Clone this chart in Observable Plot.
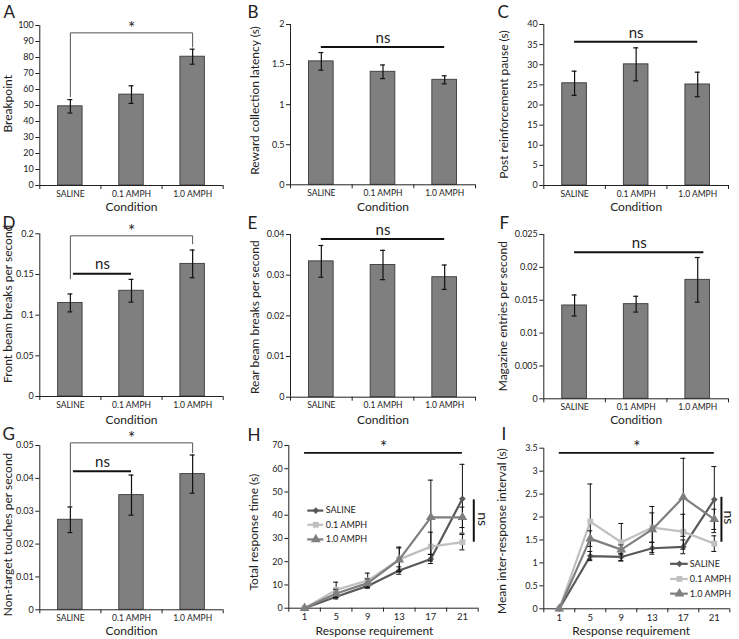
<!DOCTYPE html>
<html><head><meta charset="utf-8">
<script src="https://cdn.jsdelivr.net/npm/d3@7"></script>
<script src="https://cdn.jsdelivr.net/npm/@observablehq/plot@0.6"></script>
<style>
body{margin:0;background:#fff;}
#fig{position:relative;width:739px;height:639px;}
#fig svg{position:absolute;left:0;top:0;}
</style></head><body><div id="fig"></div>
<script>
// ---------- data ----------
const conditions = ["SALINE", "0.1 AMPH", "1.0 AMPH"];

const breakpointMean = [49.5, 56.8, 80.5];
const breakpointSem  = [4.2, 5.5, 4.7];
const latencyMean = [1.54, 1.41, 1.31];
const latencySem  = [0.11, 0.085, 0.05];
const pauseMean = [25.4, 30.1, 25.1];
const pauseSem  = [3.0, 4.1, 3.05];
const frontMean = [0.115, 0.130, 0.163];
const frontSem  = [0.011, 0.014, 0.017];
const rearMean = [0.0334, 0.0325, 0.0295];
const rearSem  = [0.0039, 0.0036, 0.0030];
const magMean = [0.0142, 0.0144, 0.0181];
const magSem  = [0.0016, 0.0012, 0.0034];
const touchMean = [0.0274, 0.0349, 0.0413];
const touchSem  = [0.0039, 0.0061, 0.0058];

const requirements = ["1", "5", "9", "13", "17", "21"];
const seriesNames = ["SALINE", "0.1 AMPH", "1.0 AMPH"];
// H: total response time (s)
const trtSaline = [0, 4.9, 9.6, 16.2, 21.2, 47.1];
const trtSalineSem = [0, 0.9, 0.9, 1.6, 2.0, 14.8];
const trtLow = [0, 7.9, 11.9, 21.0, 26.5, 28.4];
const trtLowSem = [0, 3.3, 3.2, 5.3, 6.2, 3.3];
const trtHigh = [0, 6.3, 10.8, 20.9, 39.1, 39.1];
const trtHighSem = [0, 1.8, 1.8, 5.0, 16.0, 4.4];
// I: mean inter-response interval (s)
const iriSaline = [0, 1.15, 1.13, 1.32, 1.35, 2.38];
const iriSalineSem = [0, 0.10, 0.08, 0.13, 0.15, 0.72];
const iriLow = [0, 1.90, 1.45, 1.77, 1.68, 1.42];
const iriLowSem = [0, 0.82, 0.41, 0.32, 0.38, 0.17];
const iriHigh = [0, 1.53, 1.29, 1.73, 2.43, 1.95];
const iriHighSem = [0, 0.17, 0.10, 0.50, 0.85, 0.22];

// tick values
const ticksA = [0,10,20,30,40,50,60,70,80,90,100];
const ticksB = [0,0.5,1,1.5,2];
const ticksC = [0,5,10,15,20,25,30,35,40];
const ticksD = [0,0.05,0.1,0.15,0.2];
const ticksE = [0,0.01,0.02,0.03,0.04];
const ticksF = [0,0.005,0.01,0.015,0.02,0.025];
const ticksG = [0,0.01,0.02,0.03,0.04,0.05];
const ticksH = [0,10,20,30,40,50,60,70];
const ticksI = [0,0.5,1,1.5,2,2.5,3,3.5];

// significance annotations (data units)
const sigA = {from: 0, to: 2, y: 95.4, yFrom: 55.5, yTo: 86.5, label: "*"};
const nsB = {from: 0, to: 2, y: 1.72};
const nsC = {from: 0, to: 2, y: 35.7};
const sigD = {from: 0, to: 2, y: 0.1975, yFrom: 0.1447, yTo: 0.1877, label: "*"};
const nsD = {x1: 0.55, x2: 1.5, y: 0.151};
const nsE = {from: 0, to: 2, y: 0.0389};
const nsF = {x1: 0.5, x2: 2.6, y: 0.0223};
const sigG = {from: 0, to: 2, y: 0.0508, yFrom: 0.0314, yTo: 0.0478, label: "*"};
const nsG = {x1: 0.55, x2: 1.5, y: 0.0422};
const starH = {y: 66.8}; const nsH = {y1: 28.4, y2: 46.6};
const starI = {y: 3.40}; const nsI = {y1: 1.45, y2: 2.43};

// ---------- layout ----------
const W = 739, H = 639;
const FONT = "Lato, 'Open Sans', sans-serif";
const INK = "#222";
const fig = document.getElementById("fig");

function base(box) {
  return {
    width: W, height: H,
    marginLeft: box.l, marginRight: W - box.r, marginTop: box.t, marginBottom: H - box.b,
    style: {background: "transparent", overflow: "visible", fontFamily: FONT, color: INK}
  };
}

function commonText(box, o) {
  return [
    Plot.text([o.letter], {frameAnchor: "top-left", dx: o.letterXY[0] - box.l, dy: o.letterXY[1] - box.t,
      text: d => d, textAnchor: "start", lineAnchor: "middle", fontSize: 17, fill: INK}),
    Plot.text([o.yLabel], {frameAnchor: "left", dx: o.yLabelXY[0] - box.l, dy: o.yLabelXY[1] - (box.t + box.b) / 2,
      text: d => d, rotate: -90, textAnchor: "middle", lineAnchor: "middle", fontSize: 12, fill: INK}),
    Plot.text([o.xLabel], {frameAnchor: "bottom", dx: o.xLabelDx || 0, dy: o.xLabelY - box.b,
      text: d => d, textAnchor: "middle", lineAnchor: "middle", fontSize: 12, fill: INK})
  ];
}

function yAxis(ticks) {
  return Plot.axisY({ticks, tickSize: 4, tickPadding: 2, tickFormat: d => String(d), fontSize: 9, label: null, stroke: INK, fill: INK});
}

function bracketMarks(s) {
  const a = s.from + 0.5, b = s.to + 0.5;
  const pts = [[a, s.yFrom], [a, s.y], [b, s.y], [b, s.yTo]];
  return [
    Plot.line(pts, {x: d => d[0], y: d => d[1], stroke: "#555", strokeWidth: 1}),
    Plot.text([s], {x: d => (a + b) / 2, y: "y", text: "label", dy: -4, fontSize: 17, fill: INK})
  ];
}
function nsMarks(s) {
  const x1 = s.x1 !== undefined ? s.x1 : s.from + 0.5;
  const x2 = s.x2 !== undefined ? s.x2 : s.to + 0.5;
  return [
    Plot.ruleY([s], {y: "y", x1: () => x1, x2: () => x2, stroke: "#111", strokeWidth: 2}),
    Plot.text([s], {x: () => (x1 + x2) / 2, y: "y", text: () => "ns", dy: -9, fontSize: 15, fill: INK})
  ];
}

function barPanel(o) {
  const box = o.box;
  const rows = conditions.map((c, i) => ({c, i, m: o.mean[i], lo: o.mean[i] - o.sem[i], hi: o.mean[i] + o.sem[i]}));
  const marks = [
    Plot.rectY(rows, {x1: d => d.i + 0.3, x2: d => d.i + 0.7, y1: 0, y2: "m", fill: "#7f7f7f", stroke: "#3a3a3a", strokeWidth: 0.9}),
    Plot.ruleX(rows, {x: d => d.i + 0.5, y1: "lo", y2: "hi", stroke: "#111", strokeWidth: 1.2}),
    Plot.ruleY(rows, {y: "hi", x1: d => d.i + 0.46, x2: d => d.i + 0.54, stroke: "#111", strokeWidth: 1.2}),
    Plot.ruleY(rows, {y: "lo", x1: d => d.i + 0.46, x2: d => d.i + 0.54, stroke: "#111", strokeWidth: 1.2}),
    Plot.ruleX([0], {stroke: INK}),
    Plot.ruleY([0], {stroke: INK}),
    yAxis(o.ticks),
    Plot.axisX({ticks: [0, 1, 2, 3], tickSize: 4, tickFormat: () => "", label: null, stroke: INK}),
    Plot.axisX({ticks: [0.5, 1.5, 2.5], tickSize: 0, tickPadding: 5, tickFormat: d => conditions[Math.floor(d)], fontSize: 8.5, label: null, fill: INK}),
    ...commonText(box, {...o, xLabel: "Condition"}),
    ...(o.extra || [])
  ];
  fig.appendChild(Plot.plot({...base(box), x: {domain: [0, 3]}, y: {domain: o.domain}, marks}));
}

function linePanel(o) {
  const box = o.box;
  const styles = [
    {color: "#595959", symbol: "diamond2", r: 3.0},
    {color: "#c0c0c0", symbol: "square", r: 3.3},
    {color: "#7f7f7f", symbol: "triangle", r: 3.6}
  ];
  const marks = [
    Plot.ruleX([0], {stroke: INK}),
    Plot.ruleY([0], {stroke: INK}),
    yAxis(o.ticks),
    Plot.axisX({ticks: [0, 1, 2, 3, 4, 5, 6], tickSize: 4, tickFormat: () => "", label: null, stroke: INK}),
    Plot.axisX({ticks: [0.5, 1.5, 2.5, 3.5, 4.5, 5.5], tickSize: 0, tickPadding: 5, tickFormat: d => requirements[Math.floor(d)], fontSize: 9.5, label: null, fill: INK})
  ];
  o.series.forEach((s, k) => {
    const st = styles[k];
    const pts = s.mean.map((m, i) => ({i, m, lo: m - s.sem[i], hi: m + s.sem[i], e: s.sem[i]}));
    const errs = pts.filter(d => d.e > 0);
    marks.push(
      Plot.line(pts, {x: d => d.i + 0.5, y: "m", stroke: st.color, strokeWidth: 2.2}),
      Plot.ruleX(errs, {x: d => d.i + 0.5, y1: "lo", y2: "hi", stroke: "#111", strokeWidth: 1}),
      Plot.ruleY(errs, {y: "hi", x1: d => d.i + 0.42, x2: d => d.i + 0.58, stroke: "#111", strokeWidth: 1}),
      Plot.ruleY(errs, {y: "lo", x1: d => d.i + 0.42, x2: d => d.i + 0.58, stroke: "#111", strokeWidth: 1}),
      Plot.dot(pts, {x: d => d.i + 0.5, y: "m", symbol: () => st.symbol, r: st.r, fill: st.color, stroke: "none"})
    );
    // legend entry
    const lg = o.legend;
    const ly = lg.rows[k];
    marks.push(
      Plot.ruleY([ly], {y: d => d, x1: () => lg.x1, x2: () => lg.x2, stroke: st.color, strokeWidth: 2.2}),
      Plot.dot([ly], {x: () => (lg.x1 + lg.x2) / 2, y: d => d, symbol: () => st.symbol, r: st.r, fill: st.color, stroke: "none"}),
      Plot.text([s.name], {x: () => lg.tx, y: () => ly, text: d => d, textAnchor: "start", fontSize: 9, fill: INK})
    );
  });
  // significance
  marks.push(
    Plot.ruleY([o.star], {y: "y", x1: () => 0.5, x2: () => 5.5, stroke: "#111", strokeWidth: 1.8}),
    Plot.text([o.star], {x: () => 3, y: "y", text: () => "*", dy: -5, fontSize: 17, fill: INK}),
    Plot.ruleX([o.ns], {x: () => o.nsX, y1: "y1", y2: "y2", stroke: "#111", strokeWidth: 2}),
    Plot.text([o.ns], {x: () => o.nsTextX, y: d => (d.y1 + d.y2) / 2 + o.nsTextDy, text: () => "ns", rotate: 90, textAnchor: "middle", lineAnchor: "middle", fontSize: 14, fill: INK}),
    ...commonText(box, {...o, xLabel: "Response requirement"})
  );
  fig.appendChild(Plot.plot({...base(box), x: {domain: [0, 6]}, y: {domain: o.domain}, marks}));
}

// ---------- panels ----------
barPanel({box: {l: 39.3, r: 222.7, t: 25, b: 185}, mean: breakpointMean, sem: breakpointSem, domain: [0, 100], ticks: ticksA,
  letter: "A", letterXY: [3, 12], yLabel: "Breakpoint", yLabelXY: [8, 103.3], xLabelY: 207,
  extra: bracketMarks(sigA)});
barPanel({box: {l: 290, r: 475, t: 24, b: 184.3}, mean: latencyMean, sem: latencySem, domain: [0, 2], ticks: ticksB,
  letter: "B", letterXY: [247, 12], yLabel: "Reward collection latency (s)", yLabelXY: [254.3, 100], xLabelY: 207,
  extra: nsMarks(nsB)});
barPanel({box: {l: 543.3, r: 728, t: 24, b: 185}, mean: pauseMean, sem: pauseSem, domain: [0, 40], ticks: ticksC,
  letter: "C", letterXY: [497, 12], yLabel: "Post reinforcement pause (s)", yLabelXY: [503.3, 104], xLabelY: 207,
  extra: nsMarks(nsC)});
barPanel({box: {l: 39.3, r: 222.7, t: 233.3, b: 396}, mean: frontMean, sem: frontSem, domain: [0, 0.2], ticks: ticksD,
  letter: "D", letterXY: [2, 223], yLabel: "Front beam breaks per second", yLabelXY: [7.3, 303.3], xLabelY: 419.5,
  extra: [...bracketMarks(sigD), ...nsMarks(nsD)]});
barPanel({box: {l: 290, r: 475, t: 234, b: 396.7}, mean: rearMean, sem: rearSem, domain: [0, 0.04], ticks: ticksE,
  letter: "E", letterXY: [247, 223], yLabel: "Rear beam breaks per second", yLabelXY: [254.3, 316.7], xLabelY: 419.5,
  extra: nsMarks(nsE)});
barPanel({box: {l: 543.3, r: 728, t: 234, b: 398.3}, mean: magMean, sem: magSem, domain: [0, 0.025], ticks: ticksF,
  letter: "F", letterXY: [499, 223], yLabel: "Magazine entries per second", yLabelXY: [502.7, 315.7], xLabelY: 419.5,
  extra: nsMarks(nsF)});
barPanel({box: {l: 39.3, r: 222.7, t: 445, b: 609.3}, mean: touchMean, sem: touchSem, domain: [0, 0.05], ticks: ticksG,
  letter: "G", letterXY: [2, 434], yLabel: "Non-target touches per second", yLabelXY: [7.3, 534], xLabelY: 631,
  extra: [...bracketMarks(sigG), ...nsMarks(nsG)]});
linePanel({box: {l: 288.3, r: 477.7, t: 445, b: 607.7}, domain: [0, 70], ticks: ticksH,
  series: [{name: seriesNames[0], mean: trtSaline, sem: trtSalineSem}, {name: seriesNames[1], mean: trtLow, sem: trtLowSem}, {name: seriesNames[2], mean: trtHigh, sem: trtHighSem}],
  legend: {rows: [42.0, 35.9, 29.6], x1: 0.6, x2: 1.11, tx: 1.17},
  star: starH, ns: nsH, nsX: 5.86, nsTextX: 6.13, nsTextDy: 0.8,
  letter: "H", letterXY: [247, 435], yLabel: "Total response time (s)", yLabelXY: [253.3, 531.7], xLabelY: 631, xLabelDx: -9});
linePanel({box: {l: 543.3, r: 729.3, t: 447.7, b: 608.3}, domain: [0, 3.5], ticks: ticksI,
  series: [{name: seriesNames[0], mean: iriSaline, sem: iriSalineSem}, {name: seriesNames[1], mean: iriLow, sem: iriLowSem}, {name: seriesNames[2], mean: iriHigh, sem: iriHighSem}],
  legend: {rows: [0.98, 0.65, 0.33], x1: 4.09, x2: 4.66, tx: 4.71},
  star: starI, ns: nsI, nsX: 5.73, nsTextX: 5.96, nsTextDy: 0.05,
  letter: "I", letterXY: [501, 434], yLabel: "Mean inter-response interval (s)", yLabelXY: [501.7, 530.7], xLabelY: 631, xLabelDx: -5.6});
</script></body></html>
